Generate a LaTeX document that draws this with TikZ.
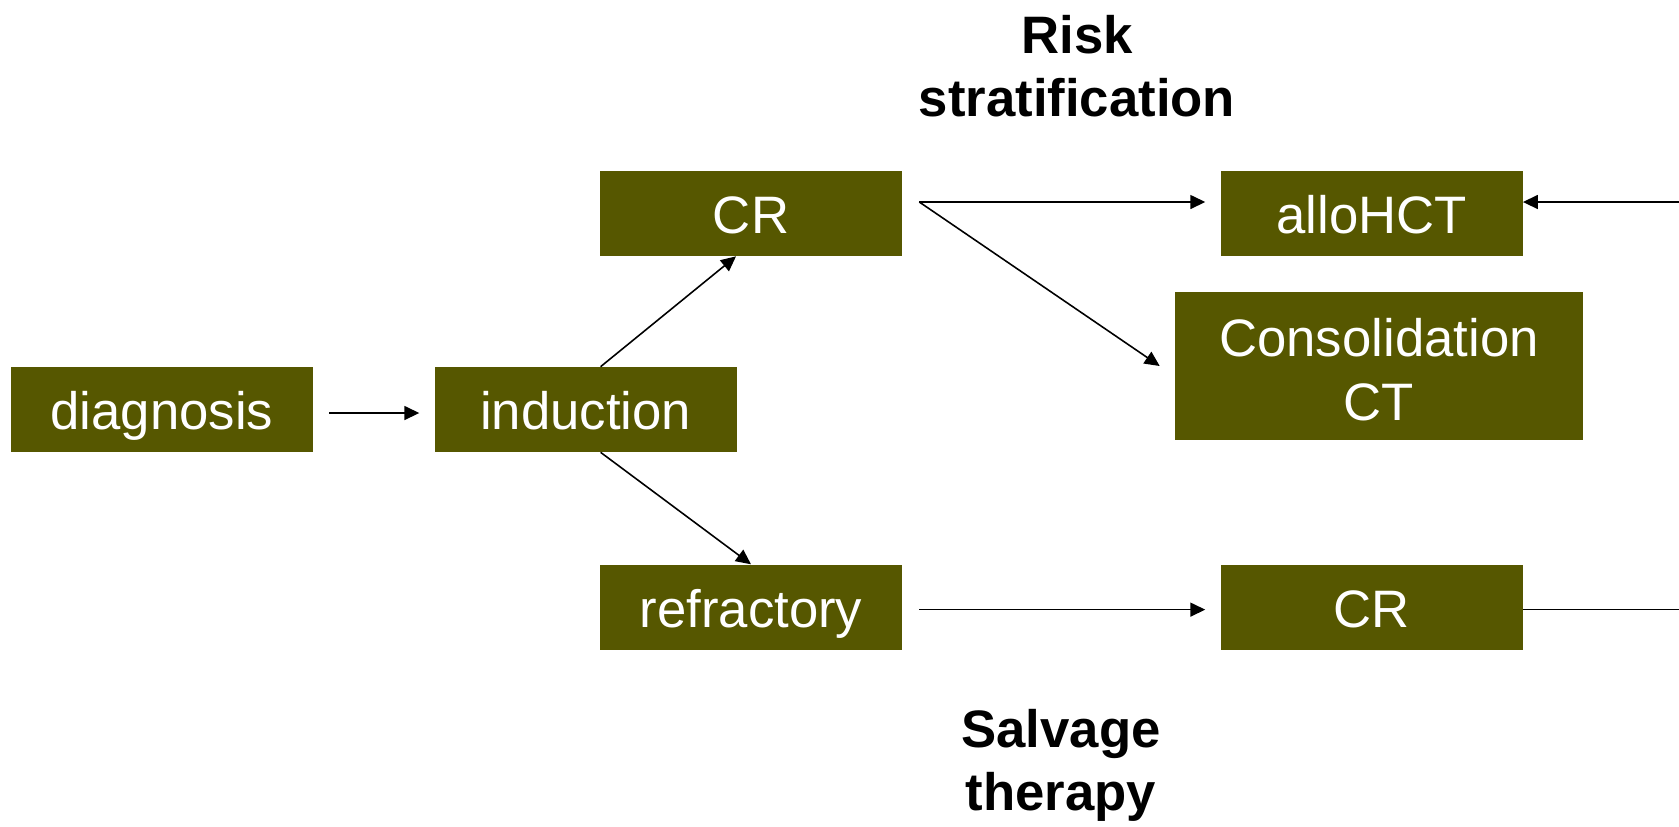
\documentclass[tikz,border=0pt]{standalone}
\usepackage{fontspec}
\setmainfont{Liberation Sans}
\usetikzlibrary{positioning,arrows.meta}

\definecolor{boxolive}{RGB}{86,87,0}

\tikzset{
  stage/.style = {fill=boxolive, text=white, minimum width=6.04cm, minimum height=1.7cm,
                  inner sep=0pt, font=\fontsize{30}{36}\selectfont, align=center,
                  text height=0.8cm, text depth=0pt},
  heading/.style = {font=\fontsize{30}{36}\selectfont\bfseries, align=center},
  arr/.style = {draw, line width=0.9pt, -{Triangle[length=0.3cm, width=0.28cm]}},
}

\begin{document}
\begin{tikzpicture}[x=0.02cm, y=-0.02cm]
        \useasboundingbox (0,0) rectangle (1679,826) ;
        \clip (0,0) rectangle (1679,826) ;
        %
        \node[stage] (diag) at (162,409.5) {diagnosis} ; %
        \node[stage, right = 2.42cm of diag] (ind) {induction} ; %
        \node[stage] (cr_1) at (751,213.5) {CR} ; %
        \node[stage, below = 6.16cm of cr_1] (refr) {refractory} ; %
        \node[stage, right = 6.36cm of cr_1] (allo) {alloHCT} ; %
        \node[stage, text height=2.16cm, minimum width=8.16cm, minimum height=2.96cm] (consol) at (1379,366) {Consolidation\\CT} ; %
        \node[stage, right = 6.36cm of refr] (cr_2) {CR} ; %
        %
        \node[heading] (risk) at (1077,66) {Risk\\stratification} ; %
        \node[heading] (salv) at (1061,765) {Salvage\\therapy} ; %
        %
        \draw[arr] ([xshift=0.32cm, yshift=-0.07cm]diag.east) -- ([xshift=-0.3cm, yshift=-0.07cm]ind.west) ; %
        \draw[arr] ([xshift=0.3cm]ind.north) -- ([xshift=-0.3cm]cr_1.south) ; %
        \draw[arr] ([xshift=0.3cm]ind.south) -- (refr.north) ; %
        \draw[arr] ([xshift=0.34cm, yshift=0.23cm]cr_1.east) -- ([xshift=-0.3cm, yshift=0.23cm]allo.west) ; %
        \draw[arr] ([xshift=0.34cm, yshift=0.23cm]cr_1.east) -- ([xshift=-0.3cm]consol.west) ; %
        \draw[arr] ([xshift=0.34cm, yshift=-0.05cm]refr.east) -- ([xshift=-0.3cm, yshift=-0.05cm]cr_2.west) ; %
        \draw[arr] ([yshift=-0.05cm]cr_2.east) -- ++(8cm,0) |- ([yshift=0.23cm]allo.east) ; %
\end{tikzpicture}
\end{document}
